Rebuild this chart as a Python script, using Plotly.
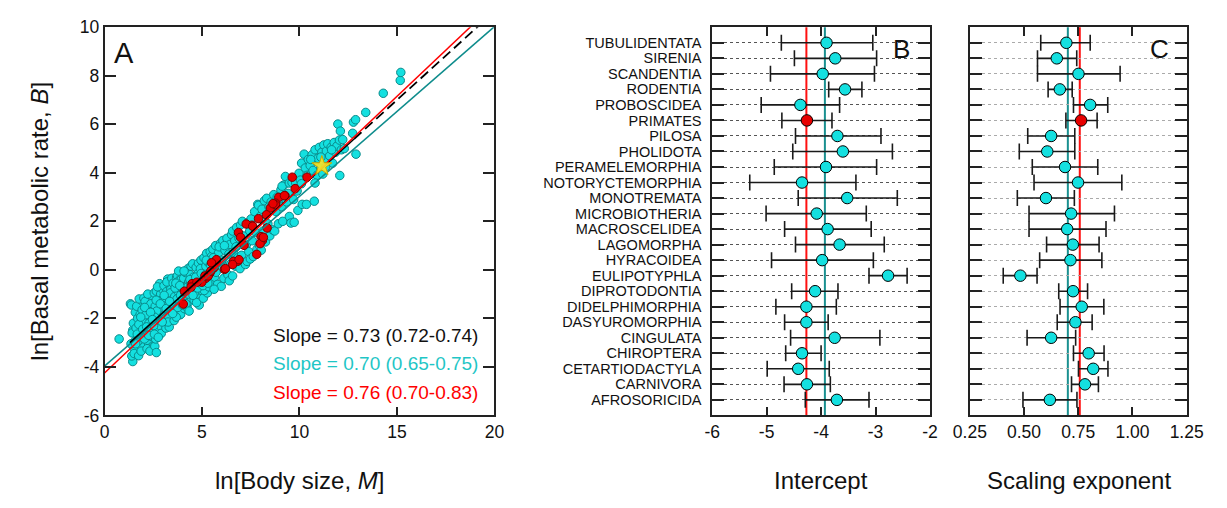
import plotly.graph_objects as go

W, H = 1227, 508
FONT = "Liberation Sans, Arial, sans-serif"

# ---------------- Panel A data ----------------
teal_pts = [
    (0.75, -2.85),
    (1.33, -1.40), (1.38, -1.45), (1.45, -2.49), (1.42, -2.60), (1.50, -3.21), (1.45, -3.78),
    (1.40, -3.55), (1.55, -2.95), (1.36, -3.05), (1.48, -2.20), (1.58, -1.75), (1.52, -3.45),
    (1.65, -1.50), (1.70, -2.00), (1.75, -3.54), (1.80, -2.70), (1.83, -1.83), (1.85, -3.10),
    (1.90, -2.35), (1.95, -1.30), (1.72, -2.95), (1.88, -3.35), (1.98, -2.80), (1.62, -2.40),
    (1.93, -1.65), (1.78, -1.20),
    (2.02, -1.17), (2.08, -1.30), (2.10, -2.10), (2.15, -2.60), (2.20, -1.60), (2.25, -3.00),
    (2.30, -1.90), (2.35, -2.40), (2.40, -1.05), (2.45, -3.15), (2.49, -3.19), (2.05, -2.85),
    (2.18, -3.25), (2.28, -2.20), (2.38, -1.40), (2.42, -2.75), (2.12, -1.85), (2.33, -3.35),
    (2.47, -1.70), (2.22, -1.00),
    (2.55, -0.95), (2.58, -3.15), (2.60, -1.50), (2.64, -2.10), (2.66, -3.41), (2.66, -0.88),
    (2.70, -2.50), (2.75, -1.25), (2.80, -1.80), (2.83, -0.57), (2.85, -2.30), (2.88, -1.00),
    (2.91, -2.62), (2.95, -1.55), (2.98, -0.80), (2.52, -2.30), (2.62, -2.85), (2.72, -0.70),
    (2.78, -2.05), (2.93, -1.25), (2.68, -1.70), (2.57, -1.95),
    (3.02, -2.00), (3.05, -0.65), (3.10, -1.40), (3.15, -2.40), (3.18, -0.90), (3.22, -1.75),
    (3.24, -0.38), (3.28, -1.10), (3.32, -2.36), (3.32, -0.57), (3.36, -1.55), (3.40, -0.80),
    (3.44, -2.00), (3.48, -1.25), (3.08, -1.85), (3.20, -0.50), (3.30, -1.95), (3.45, -0.35),
    (3.12, -1.15), (3.38, -0.95), (3.26, -2.15), (3.42, -1.65),
    (3.52, -0.55), (3.57, -2.09), (3.60, -1.10), (3.65, -1.60), (3.70, -0.30), (3.74, -0.24),
    (3.78, -0.90), (3.82, -0.44), (3.85, -1.35), (3.88, -1.85), (3.91, -1.83), (3.95, -0.70),
    (3.98, -0.10), (3.55, -1.45), (3.62, -0.75), (3.68, -1.95), (3.72, -1.20), (3.80, -0.05),
    (3.90, -1.05), (3.93, -0.40),
    (4.02, -1.20), (4.06, -0.35), (4.10, -1.60), (4.14, -0.75), (4.16, -0.11), (4.20, -1.05),
    (4.24, -1.56), (4.28, 0.05), (4.32, -0.50), (4.36, -1.30), (4.40, -0.20), (4.44, 0.15),
    (4.48, -0.90), (4.08, -0.05), (4.18, -1.40), (4.26, -0.70), (4.34, -1.70), (4.42, -0.55),
    (4.46, -1.15),
    (4.52, 0.25), (4.56, -0.30), (4.60, -1.25), (4.65, -0.65), (4.70, 0.10), (4.75, -1.00),
    (4.80, -0.15), (4.82, 0.28), (4.86, -1.45), (4.90, -0.45), (4.95, 0.40), (4.98, -0.85),
    (4.62, -0.95), (4.72, -1.35), (4.84, -0.60), (4.92, 0.05),
    (5.02, -0.30), (5.07, -1.17), (5.10, 0.50), (5.15, -0.60), (5.20, 0.15), (5.24, 0.68),
    (5.28, -0.95), (5.32, 0.30), (5.38, -0.40), (5.42, 0.75), (5.46, -0.10), (5.49, 0.55),
    (5.12, -0.85), (5.35, -0.70), (5.22, 0.40),
    (5.52, -0.55), (5.56, 0.85), (5.60, 0.20), (5.65, -0.30), (5.70, 1.00), (5.75, 0.45),
    (5.80, -0.60), (5.85, 0.70), (5.90, 0.05), (5.95, 1.10), (5.99, -0.68), (5.62, -0.80),
    (5.78, 0.10), (5.88, 0.95),
    (6.03, 0.40), (6.07, 1.21), (6.12, -0.35), (6.18, 0.80), (6.22, 0.10), (6.28, 1.30),
    (6.33, -0.20), (6.38, 0.65), (6.44, 1.05), (6.48, 0.25), (6.15, 1.00), (6.40, -0.45),
    (6.52, 1.45), (6.57, 1.60), (6.57, -0.25), (6.62, 0.70), (6.68, 1.20), (6.72, 0.15),
    (6.78, 1.75), (6.84, 0.50), (6.90, 1.30), (6.95, 0.05), (6.98, 1.85), (6.75, 0.95),
    (7.03, 0.60), (7.07, 2.00), (7.12, 1.40), (7.18, 0.30), (7.23, 0.22), (7.28, 1.05),
    (7.31, 0.35), (7.35, 1.95), (7.40, 0.75), (7.45, 1.60), (7.48, 0.45),
    (7.52, 2.10), (7.58, 1.20), (7.63, 0.55), (7.70, 2.40), (7.75, 1.55), (7.82, 0.85),
    (7.86, 2.70), (7.90, 2.66), (7.95, 1.00), (7.98, 2.20),
    (8.04, 0.81), (8.08, 2.50), (8.14, 1.60), (8.20, 2.85), (8.26, 1.15), (8.32, 2.95),
    (8.38, 1.90), (8.44, 2.60), (8.48, 1.40),
    (8.55, 2.80), (8.62, 1.65), (8.68, 3.10), (8.73, 1.60), (8.80, 2.40), (8.86, 3.00),
    (8.92, 1.90), (8.98, 2.95),
    (9.05, 3.30), (9.10, 2.60), (9.14, 2.00), (9.20, 3.50), (9.28, 3.85), (9.34, 2.80),
    (9.42, 3.15), (9.48, 2.20), (9.11, 3.45), (9.48, 3.58),
    (9.56, 1.93), (9.62, 3.60), (9.73, 1.96), (9.70, 2.90), (9.81, 3.58), (9.88, 3.25),
    (9.98, 3.98), (9.92, 2.45),
    (10.05, 3.70), (10.11, 4.40), (10.14, 2.70), (10.24, 4.77), (10.30, 4.20), (10.36, 2.70),
    (10.40, 3.90), (10.45, 4.55), (10.10, 3.55),
    (10.55, 4.30), (10.60, 3.95), (10.65, 4.75), (10.70, 4.10), (10.76, 2.83), (10.80, 4.95),
    (10.85, 4.50), (10.90, 3.90), (10.95, 4.60), (10.58, 4.55), (10.80, 3.58),
    (11.02, 5.05), (11.08, 4.20), (11.15, 4.85), (11.20, 3.95), (11.25, 5.15), (11.30, 4.55),
    (11.38, 4.90), (11.45, 5.20), (11.10, 4.65), (11.35, 4.25),
    (11.55, 4.70), (11.62, 5.05), (11.70, 4.40), (11.78, 5.25), (11.85, 4.85), (11.92, 5.10),
    (11.97, 6.01), (11.65, 4.95),
    (12.07, 3.89), (12.10, 5.72), (12.05, 5.35), (12.15, 4.95), (12.22, 5.37), (12.30, 5.00),
    (12.73, 5.63), (12.77, 6.09), (12.88, 6.19), (12.90, 4.77), (13.40, 6.49), (14.30, 7.28),
    (15.17, 7.81), (15.20, 8.14),
    (1.60, -3.05), (1.68, -2.65), (1.76, -2.25), (1.86, -1.95), (1.96, -2.45), (2.06, -1.55),
    (2.16, -2.35), (2.26, -2.70), (2.36, -1.75), (2.46, -2.05), (2.56, -2.65), (2.65, -1.25),
    (2.76, -2.78), (2.86, -1.40), (2.96, -2.15), (3.06, -1.05), (3.16, -1.60), (3.34, -1.30),
    (3.50, -1.80), (3.66, -0.55), (3.76, -1.55), (3.86, -0.65), (4.00, -1.45), (4.12, -0.95),
    (4.30, -1.00), (4.38, -0.40), (4.54, -1.05), (4.68, -0.30), (4.78, -0.75), (4.96, -0.15),
    (5.05, -0.65), (5.18, -0.20), (5.30, -0.55), (5.44, 0.20), (5.58, 0.50), (5.72, -0.10),
]

red_pts = [
    (10.39, 3.82), (9.63, 3.82), (9.78, 3.35), (9.26, 3.06), (8.94, 2.99), (8.78, 2.75),
    (8.51, 2.55), (8.76, 2.69), (8.31, 2.27), (7.90, 2.11), (7.56, 1.84), (7.27, 1.89),
    (6.87, 1.54), (8.03, 1.37), (8.10, 1.21), (7.98, 1.08), (7.81, 0.64), (7.16, 1.01),
    (6.82, 0.35), (6.62, 0.35), (6.15, 0.02), (5.74, 0.29), (5.74, 0.42), (5.62, 0.09),
    (5.40, -0.14), (5.19, -0.35), (4.99, -0.51), (4.49, -0.57), (4.04, -1.41), (4.10, -0.88),
    (6.98, 1.34), (6.90, 0.42), (6.57, 0.22), (5.49, 0.29), (5.15, -0.25), (4.74, -0.51),
    (4.44, -0.71), (8.34, 1.73), (8.15, 1.34), (7.60, 1.80), (8.64, 2.73), (9.23, 3.06),
    (5.32, -0.25), (5.45, -0.05), (6.20, 0.05),
]

star_x = [11.15]
star_y = [4.28]

# fitted lines: (slope, intercept)
fit_all = (0.73, -3.95)
fit_teal = (0.70, -3.97)
fit_red = (0.76, -4.25)
fit_all_solid_span = (1.3, 12.8)
fit_all_dash_span = (12.8, 20.0)

slope_texts = ["Slope = 0.73 (0.72-0.74)", "Slope = 0.70 (0.65-0.75)", "Slope = 0.76 (0.70-0.83)"]

# axis ticks
a_xticks = [0, 5, 10, 15, 20]
a_yticks = [-6, -4, -2, 0, 2, 4, 6, 8, 10]
b_xticks = [-6, -5, -4, -3, -2]
c_xticks = [0.25, 0.50, 0.75, 1.00, 1.25]

# ---------------- Panels B and C data ----------------
orders = ["TUBULIDENTATA", "SIRENIA", "SCANDENTIA", "RODENTIA", "PROBOSCIDEA", "PRIMATES",
          "PILOSA", "PHOLIDOTA", "PERAMELEMORPHIA", "NOTORYCTEMORPHIA", "MONOTREMATA",
          "MICROBIOTHERIA", "MACROSCELIDEA", "LAGOMORPHA", "HYRACOIDEA", "EULIPOTYPHLA",
          "DIPROTODONTIA", "DIDELPHIMORPHIA", "DASYUROMORPHIA", "CINGULATA", "CHIROPTERA",
          "CETARTIODACTYLA", "CARNIVORA", "AFROSORICIDA"]

int_est = [-3.90, -3.74, -3.97, -3.56, -4.38, -4.26, -3.70, -3.60, -3.91, -4.35, -3.52, -4.08,
           -3.88, -3.66, -3.98, -2.77, -4.11, -4.27, -4.27, -3.75, -4.35, -4.42, -4.26, -3.71]
int_lo = [-4.73, -4.49, -4.93, -3.86, -5.10, -4.72, -4.47, -4.52, -4.86, -5.31, -4.42, -5.01,
          -4.67, -4.47, -4.91, -3.12, -4.54, -4.83, -4.67, -4.56, -4.65, -4.99, -4.68, -4.29]
int_hi = [-3.05, -2.98, -3.02, -3.25, -3.66, -3.80, -2.90, -2.69, -2.98, -3.36, -2.60, -3.17,
          -3.08, -2.84, -3.04, -2.42, -3.69, -3.72, -3.87, -2.92, -4.00, -3.85, -3.83, -3.12]

exp_est = [0.695, 0.651, 0.751, 0.665, 0.805, 0.763, 0.625, 0.607, 0.689, 0.749, 0.601, 0.717,
           0.699, 0.725, 0.714, 0.483, 0.726, 0.766, 0.737, 0.625, 0.798, 0.819, 0.781, 0.619]
exp_lo = [0.577, 0.562, 0.562, 0.611, 0.728, 0.693, 0.517, 0.478, 0.538, 0.546, 0.469, 0.523,
          0.523, 0.604, 0.572, 0.404, 0.660, 0.666, 0.653, 0.514, 0.728, 0.751, 0.719, 0.495]
exp_hi = [0.805, 0.743, 0.943, 0.722, 0.886, 0.837, 0.734, 0.734, 0.840, 0.951, 0.732, 0.917,
          0.878, 0.846, 0.859, 0.560, 0.793, 0.868, 0.814, 0.738, 0.869, 0.887, 0.843, 0.744]

highlight = "PRIMATES"
int_ref_red, int_ref_teal = -4.27, -3.93
exp_ref_teal, exp_ref_red = 0.702, 0.757

# ---------------- styles ----------------
CYAN = "#14e0e0"
CYAN_EDGE = "#0a8a8a"
TEAL = "#0e8c8c"
RED = "#e80000"
RED_EDGE = "#7a0000"
CYAN_TEXT = "#1fc6c6"


def px_x(p):
    return p / W


def px_y(p):
    return 1 - p / H


dom_y = [px_y(422), px_y(18)]
domA = [px_x(90), px_x(491)]
domB = [px_x(715), px_x(939)]
domC = [px_x(980), px_x(1203)]

fig = go.Figure()

# Panel A scatter
fig.add_trace(go.Scatter(
    x=[p[0] for p in teal_pts], y=[p[1] for p in teal_pts], mode="markers",
    marker=dict(size=8.5, color=CYAN, line=dict(color=CYAN_EDGE, width=1)),
    xaxis="x", yaxis="y", showlegend=False, hoverinfo="skip"))
fig.add_trace(go.Scatter(
    x=[p[0] for p in red_pts], y=[p[1] for p in red_pts], mode="markers",
    marker=dict(size=8.5, color=RED, line=dict(color=RED_EDGE, width=1)),
    xaxis="x", yaxis="y", showlegend=False, hoverinfo="skip"))


def line_pts(fit, x0, x1):
    s, b = fit
    return [x0, x1], [b + s * x0, b + s * x1]


lx, ly = line_pts(fit_teal, 0, 20)
fig.add_trace(go.Scatter(x=lx, y=ly, mode="lines", line=dict(color=TEAL, width=1.5),
                         xaxis="x", yaxis="y", showlegend=False, hoverinfo="skip"))
lx, ly = line_pts(fit_all, *fit_all_solid_span)
fig.add_trace(go.Scatter(x=lx, y=ly, mode="lines", line=dict(color="black", width=1.6),
                         xaxis="x", yaxis="y", showlegend=False, hoverinfo="skip"))
lx, ly = line_pts(fit_all, *fit_all_dash_span)
fig.add_trace(go.Scatter(x=lx, y=ly, mode="lines",
                         line=dict(color="black", width=1.8, dash="10px,5px"),
                         xaxis="x", yaxis="y", showlegend=False, hoverinfo="skip"))
lx, ly = line_pts(fit_red, 0, 20)
fig.add_trace(go.Scatter(x=lx, y=ly, mode="lines", line=dict(color="#ff0000", width=1.5),
                         xaxis="x", yaxis="y", showlegend=False, hoverinfo="skip"))
fig.add_trace(go.Scatter(x=star_x, y=star_y, mode="markers",
                         marker=dict(symbol="star", size=15, color="rgba(250,230,40,0.9)",
                                     line=dict(color="#c9a800", width=1)),
                         xaxis="x", yaxis="y", showlegend=False, hoverinfo="skip"))

# Panels B & C
colors = [RED if o == highlight else CYAN for o in orders]


def add_forest(est, lo, hi, xa, ya):
    fig.add_trace(go.Scatter(
        x=est, y=orders, mode="markers",
        marker=dict(size=11.5, color=colors, line=dict(color="black", width=1)),
        error_x=dict(type="data", symmetric=False,
                     array=[h - e for h, e in zip(hi, est)],
                     arrayminus=[e - l for e, l in zip(est, lo)],
                     color="#1a1a1a", thickness=1.6, width=8),
        xaxis=xa, yaxis=ya, showlegend=False, hoverinfo="skip"))


add_forest(int_est, int_lo, int_hi, "x2", "y2")
add_forest(exp_est, exp_lo, exp_hi, "x3", "y3")

shapes = []
for xv, col, xr in [(int_ref_red, "#ff1010", "x2"), (int_ref_teal, "#1a9090", "x2"),
                    (exp_ref_teal, "#1a9090", "x3"), (exp_ref_red, "#ff1010", "x3")]:
    shapes.append(dict(type="line", xref=xr, yref="paper", x0=xv, x1=xv,
                       y0=dom_y[0], y1=dom_y[1], line=dict(color=col, width=2), layer="below"))


def fmt(v, nd=0):
    return f"{v:.{nd}f}"  # plain hyphen-minus as in the reference


tickfont = dict(family=FONT, size=17.5, color="#111")
axis_common = dict(showline=True, linecolor="#222", linewidth=1.5, mirror="ticks",
                   ticks="inside", tickcolor="#222", tickwidth=1.5, zeroline=False,
                   showgrid=False, tickfont=tickfont)

cat_axis = dict(axis_common, type="category", categoryorder="array", categoryarray=orders,
                tickmode="array", tickvals=orders, ticktext=orders,
                range=[len(orders), -1], ticklen=12, showgrid=True, gridcolor="#555",
                griddash="dot", gridwidth=1, domain=dom_y, ticklabelstandoff=6,
                tickfont=dict(family=FONT, size=14.5, color="#111"))

fig.update_layout(
    width=W, height=H, autosize=False,
    margin=dict(l=0, r=0, t=0, b=0),
    paper_bgcolor="white", plot_bgcolor="rgba(0,0,0,0)",
    font=dict(family=FONT, color="#111"),
    xaxis=dict(axis_common, domain=domA, range=[0, 20], tickmode="array", tickvals=a_xticks,
               ticktext=[fmt(v) for v in a_xticks], ticklen=9, anchor="y"),
    yaxis=dict(axis_common, domain=dom_y, range=[-6, 10], tickmode="array", tickvals=a_yticks,
               ticktext=[fmt(v) for v in a_yticks], ticklen=12, anchor="x"),
    xaxis2=dict(axis_common, domain=domB, range=[-6, -2], tickmode="array", tickvals=b_xticks,
                ticktext=[fmt(v) for v in b_xticks], ticklen=9, anchor="y2"),
    yaxis2=dict(cat_axis, anchor="x2"),
    xaxis3=dict(axis_common, domain=domC, range=[0.25, 1.25], tickmode="array",
                tickvals=c_xticks, ticktext=[fmt(v, 2) for v in c_xticks], ticklen=9,
                anchor="y3"),
    yaxis3=dict(cat_axis, anchor="x3", showticklabels=False, gridcolor="#aaaaaa"),
    shapes=shapes,
)

ann = []
ann.append(dict(text="A", x=px_x(98), y=px_y(45), xref="paper", yref="paper",
                xanchor="left", yanchor="middle", showarrow=False,
                font=dict(family=FONT, size=29, color="#111")))
ann.append(dict(text="B", x=px_x(910), y=px_y(41), xref="paper", yref="paper",
                xanchor="center", yanchor="middle", showarrow=False,
                font=dict(family=FONT, size=26, color="#111")))
ann.append(dict(text="C", x=px_x(1175), y=px_y(41), xref="paper", yref="paper",
                xanchor="center", yanchor="middle", showarrow=False,
                font=dict(family=FONT, size=26, color="#111")))
for txt, col, yp in zip(slope_texts, ["#111", CYAN_TEXT, "#ff0000"], [339, 368, 398]):
    ann.append(dict(text=txt, x=px_x(476), y=px_y(yp), xref="paper", yref="paper",
                    xanchor="right", yanchor="middle", showarrow=False,
                    font=dict(family=FONT, size=19, color=col)))
title_font = dict(family=FONT, size=24, color="#111")
ann.append(dict(text="ln[Body size, <i>M</i>]", x=px_x(291), y=px_y(490), xref="paper",
                yref="paper", xanchor="center", yanchor="middle", showarrow=False,
                font=title_font))
ann.append(dict(text="ln[Basal metabolic rate, <i>B</i>]", x=px_x(23), y=px_y(220),
                xref="paper", yref="paper", xanchor="center", yanchor="middle",
                showarrow=False, textangle=-90, font=title_font))
ann.append(dict(text="Intercept", x=px_x(827), y=px_y(490), xref="paper", yref="paper",
                xanchor="center", yanchor="middle", showarrow=False, font=title_font))
ann.append(dict(text="Scaling exponent", x=px_x(1092), y=px_y(490), xref="paper",
                yref="paper", xanchor="center", yanchor="middle", showarrow=False,
                font=title_font))
fig.update_layout(annotations=ann)

fig.write_html("out.html", config={"displayModeBar": False},
               post_script="document.body.style.margin='0';document.body.style.overflow='hidden';document.documentElement.style.overflow='hidden';")
